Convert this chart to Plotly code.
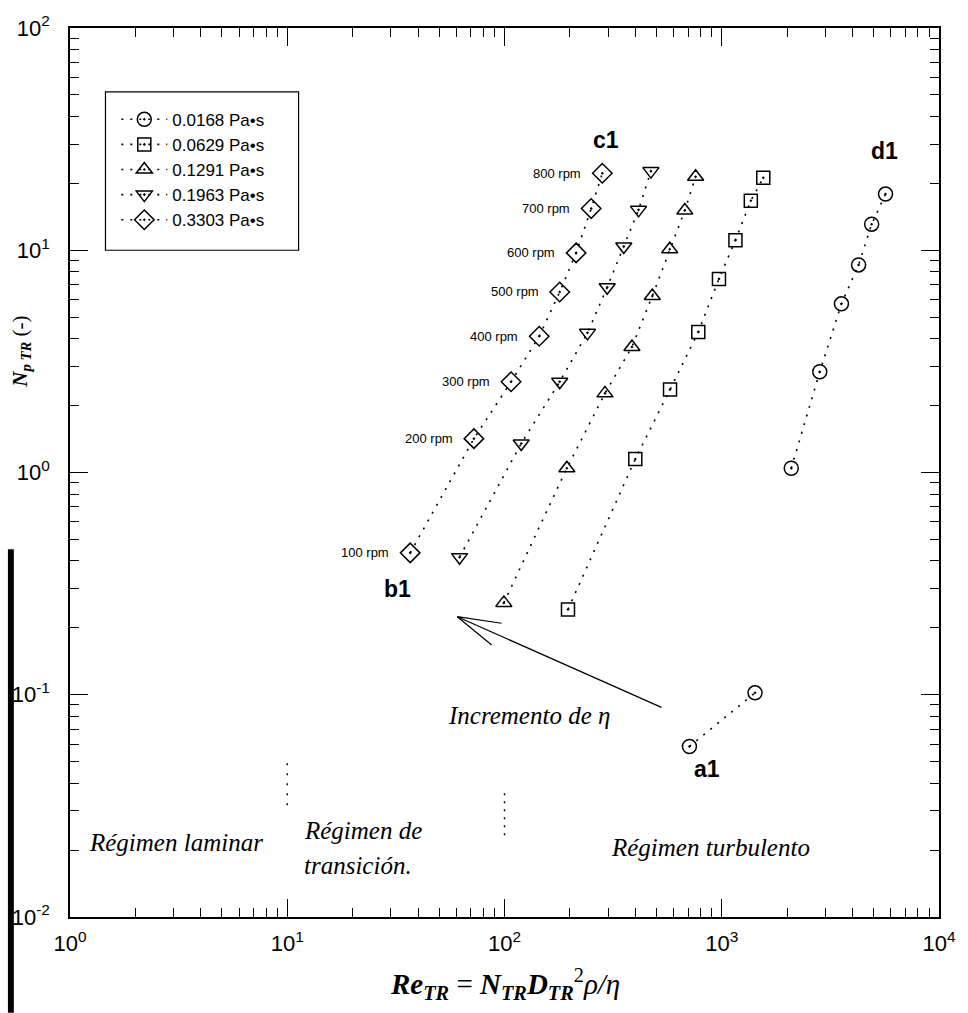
import numpy as np
import plotly.graph_objects as go

# Rotational speed for each measured point
rpm = [100, 200, 300, 400, 500, 600, 700, 800]

# Viscosity series: legend label, Reynolds number and power number per speed
visc_labels = ["0.0168 Pa•s", "0.0629 Pa•s", "0.1291 Pa•s", "0.1963 Pa•s", "0.3303 Pa•s"]

re_0168 = [710, 1423, 2089, 2826, 3556, 4264, 4898, 5673]
np_0168 = [0.0585, 0.102, 1.045, 2.84, 5.74, 8.59, 13.1, 17.9]

re_0629 = [196, 400, 578, 780, 971, 1156, 1361, 1553]
np_0629 = [0.242, 1.15, 2.36, 4.29, 7.43, 11.1, 16.7, 21.2]

re_1291 = [99.3, 193.6, 290, 386, 479, 576, 676, 758]
np_1291 = [0.259, 1.045, 2.27, 3.67, 6.22, 10.1, 15.1, 21.4]

re_1963 = [62.1, 119.4, 179.5, 241, 297, 354, 414, 472]
np_1963 = [0.416, 1.35, 2.56, 4.25, 6.82, 10.4, 15.2, 22.7]

re_3303 = [36.8, 72.3, 107.2, 144.5, 179.5, 213.7, 250.6, 282]
np_3303 = [0.435, 1.42, 2.56, 4.10, 6.49, 9.73, 15.4, 22.2]

x_ticks = [1, 10, 100, 1000, 10000]
x_ticktext = ["10<sup>0</sup>", "10<sup>1</sup>", "10<sup>2</sup>", "10<sup>3</sup>", "10<sup>4</sup>"]
y_ticks = [0.01, 0.1, 1, 10, 100]
y_ticktext = ["10<sup>-2</sup>", "10<sup>-1</sup>", "10<sup>0</sup>", "10<sup>1</sup>", "10<sup>2</sup>"]

series = [
    (visc_labels[0], re_0168, np_0168, "circle-open-dot", 14, [1]),
    (visc_labels[1], re_0629, np_0629, "square-open-dot", 13, []),
    (visc_labels[2], re_1291, np_1291, "triangle-up-open-dot", 14, []),
    (visc_labels[3], re_1963, np_1963, "triangle-down-open-dot", 14, []),
    (visc_labels[4], re_3303, np_3303, "diamond-open-dot", 15, []),
]

DOTS = "2px,7px"
fig = go.Figure()

for name, xs, ys, sym, size, breaks in series:
    # the dotted connector is interrupted after the indices listed in `breaks`
    lx, ly = [], []
    for i, (a, b) in enumerate(zip(xs, ys)):
        lx.append(a)
        ly.append(b)
        if i in breaks:
            lx.append(None)
            ly.append(None)
    fig.add_trace(go.Scatter(
        x=lx, y=ly, mode="lines+markers", name=name,
        line=dict(color="black", width=1.6, dash=DOTS),
        marker=dict(symbol=sym, size=size, color="black",
                    line=dict(color="black", width=1.5)),
        connectgaps=False,
    ))

# regime boundaries (short dotted marks at Re = 10 and Re = 100)
fig.add_trace(go.Scatter(x=[10, 10], y=[0.0318, 0.0532], mode="lines",
                         line=dict(color="black", width=1.4, dash="2px,8px"),
                         showlegend=False, hoverinfo="skip"))
fig.add_trace(go.Scatter(x=[100, 100], y=[0.0233, 0.0372], mode="lines",
                         line=dict(color="black", width=1.4, dash="2px,6px"),
                         showlegend=False, hoverinfo="skip"))

# arrow showing the direction of increasing viscosity
arrow_x = [527.8, 60.6, 96.9, None, 60.6, 87.3]
arrow_y = [0.0877, 0.2245, 0.2097, None, 0.2245, 0.1675]
fig.add_trace(go.Scatter(x=arrow_x, y=arrow_y, mode="lines",
                         line=dict(color="black", width=1.2),
                         showlegend=False, hoverinfo="skip"))

annotations = []
# speed labels next to the most viscous series
for r, a, b in zip(rpm, re_3303, np_3303):
    annotations.append(dict(
        x=np.log10(a), y=np.log10(b), xref="x", yref="y",
        text=f"{r} rpm", showarrow=False, xanchor="right", yanchor="middle",
        xshift=-19, font=dict(family="Arial, Liberation Sans", size=13, color="black")))

bold = dict(family="Arial, Liberation Sans", size=23, color="black")
corner_labels = [
    ("a1", re_0168[0], np_0168[0], 18, -22),
    ("b1", re_3303[0], np_3303[0], -13, -36),
    ("c1", re_3303[-1], np_3303[-1], 4, 33),
    ("d1", re_0168[-1], np_0168[-1], -1, 43),
]
for t, a, b, dx, dy in corner_labels:
    annotations.append(dict(
        x=np.log10(a), y=np.log10(b), xref="x", yref="y", text=f"<b>{t}</b>",
        showarrow=False, xshift=dx, yshift=dy, font=bold))

serif = dict(family="Liberation Serif, Times New Roman", size=25, color="black")
annotations += [
    dict(x=np.log10(3.09), y=-1.664, xref="x", yref="y", text="<i>Régimen laminar</i>",
         showarrow=False, font=serif),
    dict(x=1.066, y=-1.610, xref="x", yref="y", text="<i>Régimen de</i>",
         showarrow=False, xanchor="left", font=serif),
    dict(x=1.066, y=-1.767, xref="x", yref="y", text="<i>transición.</i>",
         showarrow=False, xanchor="left", font=serif),
    dict(x=2.948, y=-1.686, xref="x", yref="y", text="<i>Régimen turbulento</i>",
         showarrow=False, font=serif),
    dict(x=2.113, y=-1.094, xref="x", yref="y", text="<i>Incremento de η</i>",
         showarrow=False, font=serif),
    # x axis title
    dict(x=0.5, y=(917 - 984) / 892, xref="paper", yref="paper", yanchor="middle",
         text="<b><i>Re<sub>TR</sub></i></b> = <b><i>N<sub>TR</sub>D<sub>TR</sub></i></b><sup>2</sup><i>ρ/η</i>",
         showarrow=False,
         font=dict(family="Liberation Serif, Times New Roman", size=29, color="black")),
    # y axis title in the narrow left margin
    dict(x=(13 - 63) / 882, y=(917 - 350) / 892, xref="paper", yref="paper",
         xanchor="center", yanchor="middle",
         text="<b><i>N<sub>p TR</sub></i></b> (-)", textangle=-90, showarrow=False,
         font=dict(family="Liberation Serif, Times New Roman", size=21, color="black")),
]

shapes = [
    # legend frame
    dict(type="rect", xref="paper", yref="paper",
         x0=(99 - 63) / 882, x1=(295 - 63) / 882,
         y0=(917 - 248) / 892, y1=(917 - 89) / 892,
         line=dict(color="black", width=1.2), fillcolor="white", layer="below"),
    # dark binding strip along the left page edge
    dict(type="rect", xref="paper", yref="paper",
         x0=(0 - 63) / 882, x1=(6 - 63) / 882,
         y0=(917 - 1013) / 892, y1=(917 - 548) / 892,
         line=dict(width=0), fillcolor="black"),
]

minor_x = [m * 10 ** d for d in range(0, 4) for m in range(2, 10)]
minor_y = [m * 10 ** d for d in range(-2, 2) for m in range(2, 10)]

axis_common = dict(
    type="log", showgrid=False, zeroline=False,
    showline=True, linecolor="black", linewidth=1.5, mirror="allticks",
    ticks="inside", ticklen=18, tickwidth=1.3, tickcolor="black",
    tickfont=dict(family="Arial, Liberation Sans", size=22, color="black"),
)

fig.update_layout(
    width=968, height=1013,
    margin=dict(l=63, r=23, t=25, b=96, pad=0),
    paper_bgcolor="white", plot_bgcolor="white",
    xaxis=dict(range=[0, 4], tickmode="array", tickvals=x_ticks, ticktext=x_ticktext,
               ticklabelstandoff=6,
               minor=dict(tickmode="array", tickvals=minor_x, ticks="inside",
                          ticklen=9, tickwidth=1.2, tickcolor="black", showgrid=False),
               **axis_common),
    yaxis=dict(range=[-2, 2], tickmode="array", tickvals=y_ticks, ticktext=y_ticktext,
               ticklabelstandoff=14,
               minor=dict(tickmode="array", tickvals=minor_y, ticks="inside",
                          ticklen=9, tickwidth=1.2, tickcolor="black", showgrid=False),
               **axis_common),
    showlegend=True,
    legend=dict(x=(110 - 63) / 882, y=(917 - 99) / 892, xanchor="left", yanchor="top",
                bgcolor="rgba(0,0,0,0)", borderwidth=0,
                font=dict(family="Arial, Liberation Sans", size=17, color="black"),
                itemwidth=46, tracegroupgap=0),
    annotations=annotations,
    shapes=shapes,
)

fig.write_html("out.html")
